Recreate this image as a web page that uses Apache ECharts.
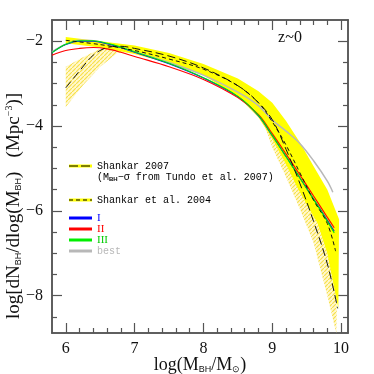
<!DOCTYPE html>
<html>
<head>
<meta charset="utf-8">
<script src="https://cdn.jsdelivr.net/npm/echarts@6/dist/echarts.min.js"></script>
<style>html,body{margin:0;padding:0;background:#fff}#chart{width:374px;height:374px}</style>
</head>
<body>
<div id="chart"></div>
<script>
// axis ticks
const xMajor = [6, 7, 8, 9, 10];
const xMinor = [6.2, 6.4, 6.6, 6.8, 7.2, 7.4, 7.6, 7.8, 8.2, 8.4, 8.6, 8.8, 9.2, 9.4, 9.6, 9.8];
const yMajor = [-8, -6, -4, -2];
const yMinor = [-8.5, -7.5, -7, -6.5, -5.5, -5, -4.5, -3.5, -3, -2.5];

// Shankar 2007 band (hatched) and curve
const s07Upper = [[6.0, -2.6], [6.25, -2.38], [6.5, -2.18], [6.75, -2.1], [7.0, -2.15], [7.5, -2.32], [8.0, -2.6], [8.5, -3.0], [8.8, -3.35], [9.0, -3.7], [9.2, -4.3], [9.4, -5.0], [9.6, -5.8], [9.8, -6.6], [9.95, -7.3]];
const s07Lower = [[6.0, -3.55], [6.25, -3.04], [6.5, -2.6], [6.75, -2.28], [7.0, -2.25], [7.5, -2.45], [8.0, -2.72], [8.5, -3.15], [8.8, -3.6], [9.0, -4.5], [9.2, -5.2], [9.4, -5.95], [9.6, -6.75], [9.8, -8.0], [9.93, -8.88]];
const s07 = [[6.0, -3.1], [6.2, -2.7], [6.4, -2.33], [6.6, -2.15], [6.8, -2.12], [7.0, -2.17], [7.5, -2.35], [8.0, -2.63], [8.5, -3.05], [8.8, -3.45], [9.0, -3.85], [9.2, -4.55], [9.4, -5.35], [9.6, -6.25], [9.8, -7.25], [9.95, -8.3]];

// Shankar et al. 2004 band (solid) and curve
const s04Upper = [[6.0, -1.9], [6.5, -2.0], [7.0, -2.1], [7.5, -2.28], [8.0, -2.54], [8.5, -2.88], [8.8, -3.18], [9.0, -3.45], [9.2, -3.88], [9.4, -4.38], [9.6, -4.95], [9.8, -5.5], [9.97, -6.2]];
const s04Lower = [[6.0, -2.05], [6.5, -2.15], [7.0, -2.3], [7.5, -2.52], [8.0, -2.8], [8.5, -3.3], [8.8, -3.8], [9.0, -4.3], [9.2, -4.9], [9.36, -5.44], [9.5, -5.85], [9.66, -6.3], [9.8, -7.0], [9.96, -8.3]];
const s04 = [[6.0, -1.98], [6.5, -2.08], [7.0, -2.22], [7.5, -2.42], [8.0, -2.66], [8.5, -3.05], [8.8, -3.45], [9.0, -3.9], [9.2, -4.45], [9.4, -5.1], [9.6, -5.75], [9.8, -6.3], [9.92, -6.95]];

// models
const modelI = [[5.8, -2.27], [6.0, -2.08], [6.2, -2.0], [6.4, -2.0], [6.6, -2.06], [6.8, -2.15], [7.0, -2.26], [7.5, -2.53], [8.0, -2.87], [8.5, -3.31], [8.8, -3.76], [9.0, -4.23], [9.2, -4.72], [9.4, -5.22], [9.6, -5.72], [9.8, -6.22], [9.9, -6.48]];
const modelII = [[5.8, -2.33], [6.0, -2.22], [6.2, -2.17], [6.4, -2.15], [6.6, -2.18], [6.8, -2.26], [7.0, -2.36], [7.5, -2.6], [8.0, -2.9], [8.5, -3.33], [8.8, -3.73], [9.0, -4.18], [9.2, -4.66], [9.4, -5.15], [9.6, -5.65], [9.8, -6.15], [9.9, -6.4]];
const modelIII = [[5.8, -2.27], [6.0, -2.07], [6.2, -1.99], [6.4, -1.99], [6.6, -2.05], [6.8, -2.14], [7.0, -2.25], [7.5, -2.52], [8.0, -2.86], [8.5, -3.3], [8.8, -3.75], [9.0, -4.22], [9.2, -4.72], [9.4, -5.22], [9.6, -5.73], [9.8, -6.25], [9.9, -6.52]];
const modelBest = [[5.8, -2.25], [6.0, -2.07], [6.2, -1.98], [6.4, -1.99], [6.6, -2.06], [6.8, -2.15], [7.0, -2.25], [7.5, -2.5], [8.0, -2.8], [8.5, -3.2], [8.8, -3.52], [9.0, -3.86], [9.2, -4.12], [9.4, -4.41], [9.6, -4.82], [9.8, -5.3], [9.88, -5.56]];

const serif = '"Liberation Serif", "DejaVu Serif", serif';
const mono = '"Liberation Mono", "DejaVu Sans Mono", monospace';
const axisCol = '#555';

// light yellow diagonal hatching
function hatchPattern() {
  const c = document.createElement('canvas');
  c.width = 4; c.height = 4;
  const g = c.getContext('2d');
  g.fillStyle = '#fff8d0';
  g.fillRect(0, 0, 4, 4);
  g.strokeStyle = '#f7e04a';
  g.lineWidth = 1.2;
  g.beginPath(); g.moveTo(-1, 5); g.lineTo(5, -1); g.stroke();
  return c;
}

function minus(v) {
  return v < 0 ? '\u2212' + Math.abs(v) : String(v);
}

function xAxisDef(pos, ticks, len, labels) {
  return {
    type: 'value', position: pos, min: 5.8, max: 10.1,
    axisLine: { show: true, onZero: false, lineStyle: { color: axisCol, width: 1.5 } },
    axisTick: { show: true, inside: true, length: len, customValues: ticks, lineStyle: { color: axisCol, width: 1.2 } },
    axisLabel: { show: labels, customValues: xMajor, margin: 8, color: '#111', fontFamily: serif, fontSize: 16 },
    splitLine: { show: false }
  };
}

function yAxisDef(pos, ticks, len, labels) {
  return {
    type: 'value', position: pos, min: -8.88, max: -1.5,
    axisLine: { show: true, onZero: false, lineStyle: { color: axisCol, width: 1.5 } },
    axisTick: { show: true, inside: true, length: len, customValues: ticks, lineStyle: { color: axisCol, width: 1.2 } },
    axisLabel: { show: labels, customValues: yMajor, margin: 9, color: '#111', fontFamily: serif, fontSize: 16, formatter: minus },
    splitLine: { show: false }
  };
}

function band(upper, lower, fill) {
  return {
    type: 'custom', silent: true, xAxisIndex: 0, yAxisIndex: 0,
    data: [upper[0]],
    renderItem: function (params, api) {
      const pts = upper.concat(lower.slice().reverse()).map(function (p) { return api.coord(p); });
      return { type: 'polygon', shape: { points: pts }, style: { fill: fill, stroke: null } };
    }
  };
}

function curve(data, color, width, dash) {
  return {
    type: 'line', data: data, xAxisIndex: 0, yAxisIndex: 0,
    symbol: 'none', smooth: 0.35, silent: true,
    lineStyle: { color: color, width: width, type: dash || 'solid' }
  };
}

const chart = echarts.init(document.getElementById('chart'));
const lx1 = 69, lx2 = 92, tx = 97;

chart.setOption({
  animation: false,
  backgroundColor: '#fff',
  grid: { left: 52, right: 26, top: 20, bottom: 41 },
  xAxis: [
    xAxisDef('bottom', xMajor, 10, true),
    xAxisDef('bottom', xMinor, 5, false),
    xAxisDef('top', xMajor, 10, false),
    xAxisDef('top', xMinor, 5, false)
  ],
  yAxis: [
    yAxisDef('left', yMajor, 10, true),
    yAxisDef('left', yMinor, 5, false),
    yAxisDef('right', yMajor, 10, false),
    yAxisDef('right', yMinor, 5, false)
  ],
  series: [
    band(s07Upper, s07Lower, { image: hatchPattern(), repeat: 'repeat' }),
    band(s04Upper, s04Lower, '#ffff00'),
    curve(modelBest, '#b8b8b8', 1.5),
    curve(modelI, '#0000ff', 1.1),
    curve(modelII, '#ff0000', 1.1),
    curve(modelIII, '#00ee00', 1.1),
    curve(s07, '#111', 1, [8, 4]),
    curve(s04, '#111', 1, [4, 3])
  ],
  graphic: [
    { type: 'line', shape: { x1: lx1, y1: 166, x2: lx2, y2: 166 }, style: { stroke: '#ffff00', lineWidth: 3 } },
    { type: 'line', shape: { x1: lx1, y1: 166, x2: lx2, y2: 166 }, style: { stroke: '#000', lineWidth: 1, lineDash: [9, 3] } },
    { type: 'text', x: tx, y: 166, style: { text: 'Shankar 2007', font: '10px ' + mono, fill: '#000', verticalAlign: 'middle' } },
    { type: 'text', x: tx, y: 177, style: {
      text: '(M{s|BH}\u2212\u03c3 from Tundo et al. 2007)', font: '10px ' + mono, fill: '#000', verticalAlign: 'middle',
      rich: { s: { fontSize: 6, fontFamily: 'Liberation Sans', fontWeight: 'bold', verticalAlign: 'bottom', padding: [5, 0, 0, 0] } } } },
    { type: 'line', shape: { x1: lx1, y1: 200, x2: lx2, y2: 200 }, style: { stroke: '#ffff00', lineWidth: 3 } },
    { type: 'line', shape: { x1: lx1, y1: 200, x2: lx2, y2: 200 }, style: { stroke: '#000', lineWidth: 1, lineDash: [4, 3] } },
    { type: 'text', x: tx, y: 200, style: { text: 'Shankar et al. 2004', font: '10px ' + mono, fill: '#000', verticalAlign: 'middle' } },
    { type: 'line', shape: { x1: lx1, y1: 218, x2: lx2, y2: 218 }, style: { stroke: '#0000ff', lineWidth: 3 } },
    { type: 'text', x: tx, y: 218, style: { text: 'I', font: '11px ' + serif, fill: '#0000ff', verticalAlign: 'middle' } },
    { type: 'line', shape: { x1: lx1, y1: 229, x2: lx2, y2: 229 }, style: { stroke: '#ff0000', lineWidth: 3 } },
    { type: 'text', x: tx, y: 229, style: { text: 'II', font: '11px ' + serif, fill: '#ff0000', verticalAlign: 'middle' } },
    { type: 'line', shape: { x1: lx1, y1: 240, x2: lx2, y2: 240 }, style: { stroke: '#00ee00', lineWidth: 3 } },
    { type: 'text', x: tx, y: 240, style: { text: 'III', font: '11px ' + serif, fill: '#00cc00', verticalAlign: 'middle' } },
    { type: 'line', shape: { x1: lx1, y1: 251, x2: lx2, y2: 251 }, style: { stroke: '#b8b8b8', lineWidth: 3 } },
    { type: 'text', x: tx, y: 251, style: { text: 'best', font: '10px ' + mono, fill: '#b8b8b8', verticalAlign: 'middle' } },
    { type: 'text', x: 290, y: 38, style: { text: 'z~0', font: '16px ' + serif, fill: '#111', align: 'center', verticalAlign: 'middle' } },
    { type: 'text', x: 200, y: 365, style: {
      text: 'log(M{s|BH}/M{s|\u2299})', font: '18px ' + serif, fill: '#111', align: 'center', verticalAlign: 'middle',
      rich: { s: { fontSize: 9, fontFamily: 'Liberation Sans', verticalAlign: 'bottom', padding: [8, 0, 0, 0] } } } },
    { type: 'text', x: 14, y: 206, rotation: Math.PI / 2, style: {
      text: 'log[dN{s|BH}/dlog(M{s|BH})   (Mpc{p|\u22123})]', font: '19px ' + serif, fill: '#111', align: 'center', verticalAlign: 'middle',
      rich: {
        s: { fontSize: 9, fontFamily: 'Liberation Sans', verticalAlign: 'bottom', padding: [8, 0, 0, 0] },
        p: { fontSize: 10, fontFamily: serif, verticalAlign: 'top', padding: [0, 0, 8, 0] }
      } } }
  ]
});
</script>
</body>
</html>
